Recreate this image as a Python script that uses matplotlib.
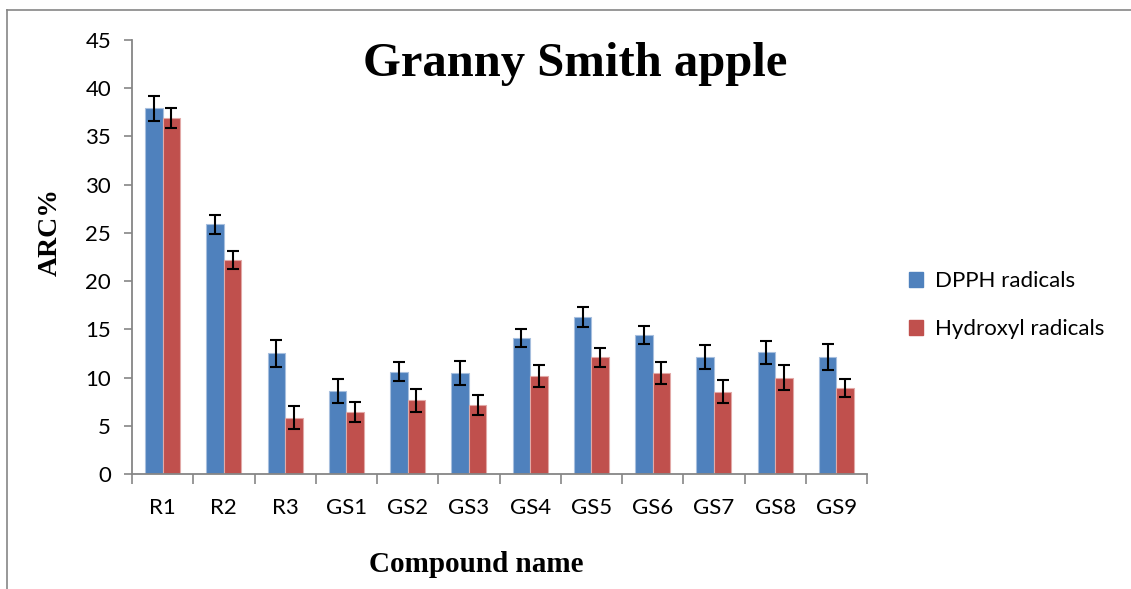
import numpy as np
import matplotlib.pyplot as plt
from matplotlib.lines import Line2D
from matplotlib.patches import Patch

# data
compounds = ['R1', 'R2', 'R3', 'GS1', 'GS2', 'GS3', 'GS4', 'GS5', 'GS6', 'GS7', 'GS8', 'GS9']
dpph = [37.9, 25.9, 12.5, 8.6, 10.6, 10.5, 14.1, 16.3, 14.4, 12.1, 12.6, 12.1]
dpph_err = [1.25, 1.0, 1.4, 1.2, 1.0, 1.25, 0.95, 1.05, 0.95, 1.25, 1.2, 1.35]
hydroxyl = [36.9, 22.2, 5.85, 6.45, 7.65, 7.15, 10.15, 12.1, 10.45, 8.55, 10.0, 8.95]
hydroxyl_err = [1.0, 0.9, 1.2, 1.05, 1.2, 1.05, 1.15, 1.0, 1.15, 1.15, 1.3, 0.95]

blue = '#4f81bd'
red = '#c0504d'
grey = '#868686'
serif = 'Liberation Serif'
sans = 'Lato'

fig = plt.figure(figsize=(11.31, 5.89), dpi=100)
W, H = 1131, 589

# thin frame at top and left of the picture
fig.add_artist(Line2D([7/W, 7/W], [0, 1 - 10/H], color=grey, lw=1.2))
fig.add_artist(Line2D([7/W, 1], [1 - 10/H, 1 - 10/H], color=grey, lw=1.2))

ax = fig.add_axes([132/W, 1 - 474/H, (867 - 132)/W, (474 - 40)/H])

x = np.arange(len(compounds))
w = 0.286
ekw = dict(ecolor='black', elinewidth=1.5, capsize=4.3, capthick=1.5)
ax.bar(x - w/2, dpph, w, yerr=dpph_err, color=blue, edgecolor='#a7bfde',
       linewidth=0.8, error_kw=ekw, label='DPPH radicals')
ax.bar(x + w/2, hydroxyl, w, yerr=hydroxyl_err, color=red, edgecolor='#e2a9a7',
       linewidth=0.8, error_kw=ekw, label='Hydroxyl radicals')

ax.set_xlim(-0.5, len(compounds) - 0.5)
ax.set_ylim(0, 45)
ax.set_yticks(np.arange(0, 46, 5))
ax.set_xticks(x)
ax.set_xticklabels(compounds)
ax.set_xticks(np.arange(-0.5, len(compounds)), minor=True)
ax.tick_params(axis='x', which='major', length=0, pad=17)
ax.tick_params(axis='x', which='minor', length=7, width=1.2, color=grey)
ax.tick_params(axis='y', length=6, width=1.2, color=grey, pad=9)
for lab in ax.get_xticklabels() + ax.get_yticklabels():
    lab.set_family(sans)
    lab.set_fontsize(16)
for s in ['top', 'right']:
    ax.spines[s].set_visible(False)
for s in ['left', 'bottom']:
    ax.spines[s].set_color(grey)
    ax.spines[s].set_linewidth(1.3)

fig.text(575/W, 1 - 64/H, 'Granny Smith apple', family=serif, weight='bold',
         fontsize=35, ha='center', va='center')
fig.text(476/W, 1 - 565/H, 'Compound name', family=serif, weight='bold',
         fontsize=21, ha='center', va='center')
fig.text(50/W, 1 - 232/H, 'ARC%', family=serif, weight='bold',
         fontsize=20, ha='center', va='center', rotation=90)

handles = [Patch(color=blue), Patch(color=red)]
fig.legend(handles, ['DPPH radicals', 'Hydroxyl radicals'],
           loc='center left', bbox_to_anchor=(889/W, 1 - 305/H), frameon=False,
           prop={'family': sans, 'size': 16}, handlelength=0.65, handleheight=0.65,
           handletextpad=0.5, labelspacing=1.25)

fig.savefig('out.png', dpi=100)
